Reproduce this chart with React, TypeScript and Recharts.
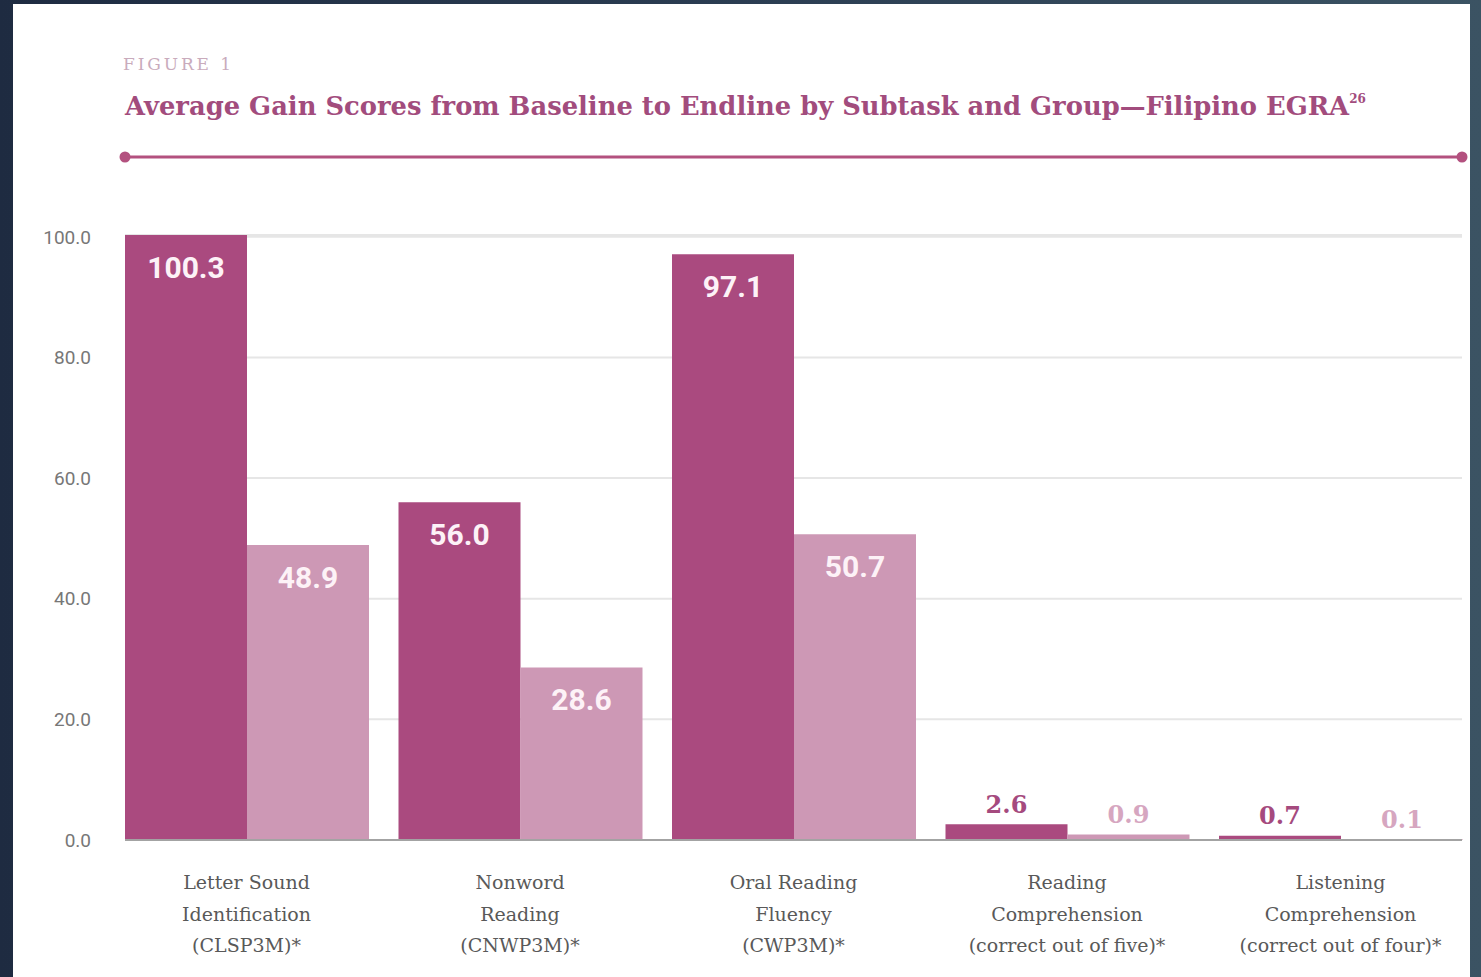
import React from 'react';
import { BarChart, Bar, XAxis, YAxis, CartesianGrid, LabelList } from 'recharts';

const categories = [
  'Letter Sound\nIdentification\n(CLSP3M)*',
  'Nonword\nReading\n(CNWP3M)*',
  'Oral Reading\nFluency\n(CWP3M)*',
  'Reading\nComprehension\n(correct out of five)*',
  'Listening\nComprehension\n(correct out of four)*',
];
const treatmentValues = [100.3, 56.0, 97.1, 2.6, 0.7];
const comparisonValues = [48.9, 28.6, 50.7, 0.9, 0.1];
const yTicks = [0, 20, 40, 60, 80, 100];

const figureLabel = 'FIGURE 1';
const titleText = 'Average Gain Scores from Baseline to Endline by Subtask and Group\u2014Filipino EGRA';
const titleSup = '26';

const DARK = '#aa4a7f';
const LIGHT = '#cd98b5';

const data = categories.map((c, i) => ({
  category: c,
  treatment: treatmentValues[i],
  comparison: comparisonValues[i],
}));

const makeLabel = (outsideColor: string) => (props: any) => {
  const vb = props.viewBox || {};
  const x = props.x ?? vb.x;
  const y = props.y ?? vb.y;
  const width = props.width ?? vb.width;
  const height = props.height ?? vb.height;
  const value = props.value;
  const cx = x + width / 2;
  const txt = Number(value).toFixed(1);
  if (height > 60) {
    return (
      <text x={cx} y={y + 32} textAnchor="middle" dominantBaseline="central" fill="#fdf2f7"
        fontFamily="Roboto, sans-serif" fontWeight={700} fontSize={30}>{txt}</text>
    );
  }
  return (
    <text x={cx} y={y - 20} textAnchor="middle" dominantBaseline="central" fill={outsideColor}
      fontFamily="'DejaVu Serif', serif" fontWeight={700} fontSize={24}>{txt}</text>
  );
};

const XTick = (props: any) => {
  const { x, y, payload } = props;
  const lines = String(payload.value).split('\n');
  return (
    <g>
      {lines.map((l, i) => (
        <text key={i} x={x} y={y + 49 + i * 31.5} textAnchor="middle" fill="#595959"
          fontFamily="'DejaVu Serif', serif" fontSize={19}>{l}</text>
      ))}
    </g>
  );
};

export default function App() {
  return (
    <div style={{ position: 'absolute', left: 0, top: 0, width: 1481, height: 977, overflow: 'hidden',
      background: 'linear-gradient(90deg, #1e2b41 0%, #2b3d52 50%, #3b5363 100%)' }}>
      <div style={{ position: 'absolute', left: 13, top: 4, width: 1457, height: 990, background: '#ffffff' }} />
      <div style={{ position: 'absolute', left: 0, top: 0 }}>
        <BarChart width={1481} height={977} data={data}
          margin={{ top: 235, right: 19, bottom: 0, left: 0 }}
          barCategoryGap={15.25} barGap={0}>
          <CartesianGrid vertical={false} stroke="#e6e6e6" strokeWidth={2} />
          <XAxis dataKey="category" height={137} tickLine={false} tickSize={0} tickMargin={0}
            axisLine={{ stroke: '#a3a3a3', strokeWidth: 2 }} interval={0}
            padding={{ left: -15.25, right: -15.25 }} tick={<XTick />} />
          <YAxis width={125} domain={[0, 'dataMax']} ticks={yTicks} tickLine={false} axisLine={false}
            tickSize={0} tickMargin={34} tickFormatter={(v: number) => v.toFixed(1)}
            tick={{ fill: '#777777', fontSize: 19, fontFamily: 'Roboto, sans-serif' }} />
          <Bar dataKey="treatment" fill={DARK} isAnimationActive={false}>
            <LabelList dataKey="treatment" content={makeLabel('#a54a7e')} />
          </Bar>
          <Bar dataKey="comparison" fill={LIGHT} isAnimationActive={false}>
            <LabelList dataKey="comparison" content={makeLabel('#d6a6c0')} />
          </Bar>
        </BarChart>
      </div>
      <svg width={1481} height={200} style={{ position: 'absolute', left: 0, top: 0, pointerEvents: 'none' }}>
        <text x={123} y={70} fill="#c9abbc" fontFamily="'DejaVu Serif', serif" fontSize={17}
          textLength={108} lengthAdjust="spacing">{figureLabel}</text>
        <text x={125} y={115} fill="#a24c7d" fontFamily="'DejaVu Serif', serif" fontWeight={700} fontSize={25.8}>
          {titleText}
          <tspan fontSize={12} dy={-12}>{titleSup}</tspan>
        </text>
        <line x1={125} y1={157} x2={1462} y2={157} stroke="#b3517f" strokeWidth={3} />
        <circle cx={125} cy={157} r={5.5} fill="#b3517f" />
        <circle cx={1462} cy={157} r={5.5} fill="#b3517f" />
      </svg>
    </div>
  );
}
